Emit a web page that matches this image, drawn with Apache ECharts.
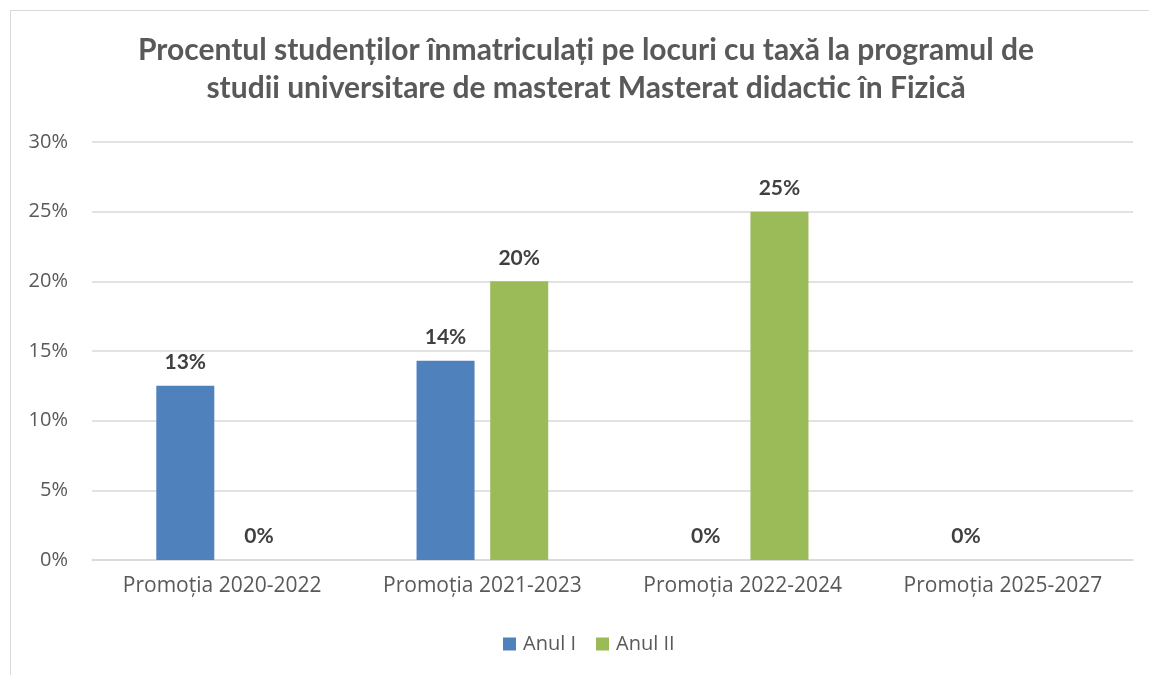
<!DOCTYPE html>
<html><head><meta charset="utf-8">
<script src="https://cdn.jsdelivr.net/npm/echarts@6/dist/echarts.min.js"></script>
<style>
html,body{margin:0;padding:0;background:#fff;}
#frame{position:absolute;left:10px;top:10px;width:1160px;height:700px;border:1px solid #d9d9d9;box-sizing:border-box;}
#c{position:absolute;left:0;top:0;width:1149px;height:675px;}
</style></head><body>
<div id="frame"></div>
<div id="c"></div>
<script>
const titleText = 'Procentul studenților înmatriculați pe locuri cu taxă la programul de\nstudii universitare de masterat Masterat didactic în Fizică';
const categories = ['Promoția 2020-2022','Promoția 2021-2023','Promoția 2022-2024','Promoția 2025-2027'];
const seriesNames = ['Anul I','Anul II'];
const anulI = [12.5, 14.3, 0, 0];
const anulII = [0, 20, 25, null];
const yTicks = [0, 5, 10, 15, 20, 25, 30];

const FONT = 'Lato, "Open Sans", sans-serif';
const FONT2 = '"Open Sans", Lato, sans-serif';
const chart = echarts.init(document.getElementById('c'), null, {renderer:'canvas'});
const labelCfg = {
  show:true, position:'top', distance:13,
  formatter: p => (p.value==null ? '' : Math.round(p.value)+'%'),
  color:'#404040', fontSize:21, fontWeight:'bold', fontFamily:FONT
};
chart.setOption({
  animation:false,
  backgroundColor:'transparent',
  title:{text:titleText, left:586, textAlign:'center', top:31, padding:0,
    textStyle:{fontSize:30, fontWeight:'bold', color:'#595959', fontFamily:FONT, lineHeight:38}},
  legend:{data:seriesNames, bottom:21, left:503, padding:0, itemWidth:13, itemHeight:13, itemGap:20,
    icon:'rect', textStyle:{fontSize:20, color:'#595959', fontFamily:FONT2, padding:[0,0,0,2]}},
  grid:{left:92, right:16, top:142, bottom:115, containLabel:false},
  xAxis:{type:'category', data:categories,
    axisLine:{lineStyle:{color:'#d9d9d9', width:1.5}}, axisTick:{show:false},
    axisLabel:{fontSize:21, color:'#595959', fontFamily:FONT2, margin:16}},
  yAxis:{type:'value', min:yTicks[0], max:yTicks[yTicks.length-1], interval:5,
    axisLine:{show:false}, axisTick:{show:false},
    splitLine:{lineStyle:{color:'#d9d9d9', width:1.5}},
    axisLabel:{fontSize:20, color:'#595959', fontFamily:FONT2, margin:24, formatter:v=>v+'%'}},
  series:[
    {name:seriesNames[0], type:'bar', data:anulI, barWidth:58, barGap:'27%',
     itemStyle:{color:'#4F81BD'}, label:labelCfg},
    {name:seriesNames[1], type:'bar', data:anulII, barWidth:58, barGap:'27%',
     itemStyle:{color:'#9BBB59'}, label:labelCfg}
  ]
});
</script>
</body></html>
